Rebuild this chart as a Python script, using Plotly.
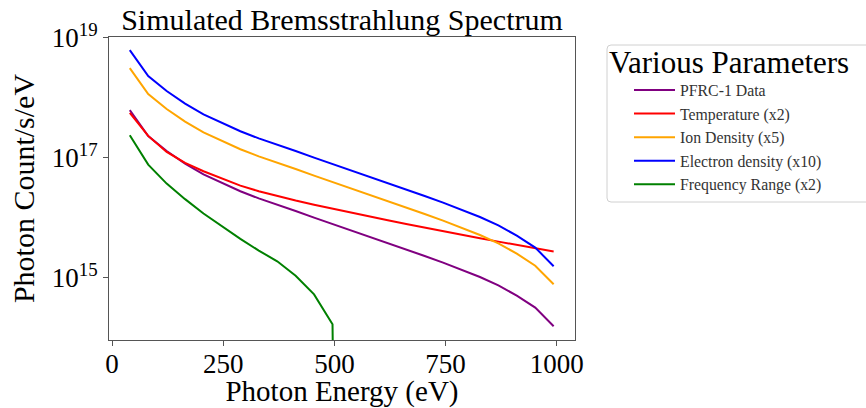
import plotly.graph_objects as go

# Photon energy grid (eV)
energy = [40.0, 81.4, 122.9, 164.3, 205.7, 247.2, 288.6, 330.0, 371.5, 412.9,
          454.3, 495.8, 537.2, 578.7, 620.1, 661.5, 703.0, 744.4, 785.8, 827.3,
          868.7, 910.1, 951.6, 993.0]

# Photon count / s / eV for each parameter set
pfrc1 = [6.17e17, 2.29e17, 1.29e17, 7.94e16, 5.25e16, 3.80e16, 2.75e16, 2.09e16,
         1.66e16, 1.29e16, 1.00e16, 7.85e15, 6.17e15, 4.79e15, 3.72e15, 2.92e15,
         2.29e15, 1.778e15, 1.365e15, 1.023e15, 7.41e14, 5.01e14, 3.16e14, 1.55e14]
temperature_x2 = [5.56e17, 2.30e17, 1.245e17, 8.17e16, 5.93e16, 4.47e16, 3.41e16, 2.754e16,
                  2.291e16, 1.928e16, 1.641e16, 1.406e16, 1.208e16, 1.042e16, 9.02e15, 7.82e15,
                  6.79e15, 5.92e15, 5.18e15, 4.54e15, 3.98e15, 3.51e15, 3.09e15, 2.72e15]
ion_density_x5 = [3.09e18, 1.15e18, 6.45e17, 3.97e17, 2.63e17, 1.90e17, 1.38e17, 1.05e17,
                  8.30e16, 6.45e16, 5.00e16, 3.93e16, 3.09e16, 2.40e16, 1.86e16, 1.46e16,
                  1.15e16, 8.91e15, 6.84e15, 5.13e15, 3.72e15, 2.51e15, 1.58e15, 7.76e14]
electron_density_x10 = [6.17e18, 2.29e18, 1.29e18, 7.94e17, 5.25e17, 3.80e17, 2.75e17, 2.09e17,
                        1.66e17, 1.29e17, 1.00e17, 7.85e16, 6.17e16, 4.79e16, 3.72e16, 2.92e16,
                        2.29e16, 1.778e16, 1.365e16, 1.023e16, 7.41e15, 5.01e15, 3.16e15, 1.55e15]
frequency_range_x2 = [2.36e17, 7.64e16, 3.69e16, 2.03e16, 1.17e16, 7.19e15, 4.42e15, 2.82e15,
                      1.87e15, 1.07e15, 5.25e14, 1.67e14, 0, 0, 0, 0,
                      0, 0, 0, 0, 0, 0, 0, 0]

series_names = ["PFRC-1 Data", "Temperature (x2)", "Ion Density (x5)",
                "Electron density (x10)", "Frequency Range (x2)"]
series_values = [pfrc1, temperature_x2, ion_density_x5, electron_density_x10, frequency_range_x2]
series_colors = ["#800080", "#ff0000", "#ffa500", "#0000ff", "#008000"]

y_tick_values = [1e15, 1e17, 1e19]
y_tick_labels = ["10<sup>15</sup>", "10<sup>17</sup>", "10<sup>19</sup>"]
x_tick_values = [0, 250, 500, 750, 1000]
x_tick_labels = ["0", "250", "500", "750", "1000"]

FONT = "Liberation Serif"
W, H = 866, 408
L, R, T, B = 109, 291, 37, 68
PW, PH = W - L - R, H - T - B


def px_x(p):
    return (p - L) / PW


def px_y(p):
    return (H - B - p) / PH


fig = go.Figure()
for name, vals, col in zip(series_names, series_values, series_colors):
    # non-positive values are clipped to a tiny value on the log axis (like matplotlib)
    yv = [v if v > 0 else 1e-300 for v in vals]
    fig.add_trace(go.Scatter(x=energy, y=yv, mode="lines", name=name,
                             line=dict(color=col, width=2)))

# legend frame (rounded box)
x0, x1, y0, y1, r = 607, 872, 45, 202, 4
fig.add_shape(type="path", xref="paper", yref="paper", layer="below",
              path=(f"M {px_x(x0 + r)} {px_y(y0)} L {px_x(x1)} {px_y(y0)} "
                    f"L {px_x(x1)} {px_y(y1)} L {px_x(x0 + r)} {px_y(y1)} "
                    f"Q {px_x(x0)} {px_y(y1)} {px_x(x0)} {px_y(y1 - r)} "
                    f"L {px_x(x0)} {px_y(y0 + r)} Q {px_x(x0)} {px_y(y0)} {px_x(x0 + r)} {px_y(y0)} Z"),
              line=dict(color="#d0d0d0", width=1), fillcolor="white")

axis_col = "#555555"
fig.update_layout(
    width=W, height=H,
    margin=dict(l=L, r=R, t=T, b=B, autoexpand=False),
    paper_bgcolor="white", plot_bgcolor="white",
    font=dict(family=FONT, color="black"),
    title=dict(text="Simulated Bremsstrahlung Spectrum", font=dict(size=30, family=FONT),
               x=(L + L + PW) / 2 / W, xanchor="center",
               y=1 - 19 / H, yanchor="middle", yref="container"),
    xaxis=dict(range=[-6.75, 1041], tickvals=x_tick_values, ticktext=x_tick_labels,
               showline=True, linecolor=axis_col, linewidth=1, mirror=True,
               ticks="outside", ticklen=5, tickcolor=axis_col, ticklabelstandoff=-5,
               tickfont=dict(size=27, family=FONT), showgrid=False, zeroline=False,
               title=dict(text="Photon Energy (eV)", font=dict(size=29, family=FONT), standoff=11)),
    yaxis=dict(type="log", range=[13.96, 19.01], tickvals=y_tick_values, ticktext=y_tick_labels,
               showline=True, linecolor=axis_col, linewidth=1, mirror=True,
               ticks="outside", ticklen=5, tickcolor=axis_col,
               tickfont=dict(size=27, family=FONT), showgrid=False, zeroline=False,
               title=dict(text="Photon Count/s/eV", font=dict(size=30, family=FONT), standoff=8)),
    legend=dict(x=px_x(607), y=px_y(33), xanchor="left", yanchor="top",
                bgcolor="rgba(0,0,0,0)", borderwidth=0,
                font=dict(size=15.8, family=FONT, color="#333333"),
                title=dict(text="Various Parameters", font=dict(size=31, family=FONT, color="black")),
                indentation=22, itemwidth=41, tracegroupgap=0),
    showlegend=True,
)

fig.write_html("out.html", config={"displayModeBar": False},
               post_script="document.body.style.margin='0';")
